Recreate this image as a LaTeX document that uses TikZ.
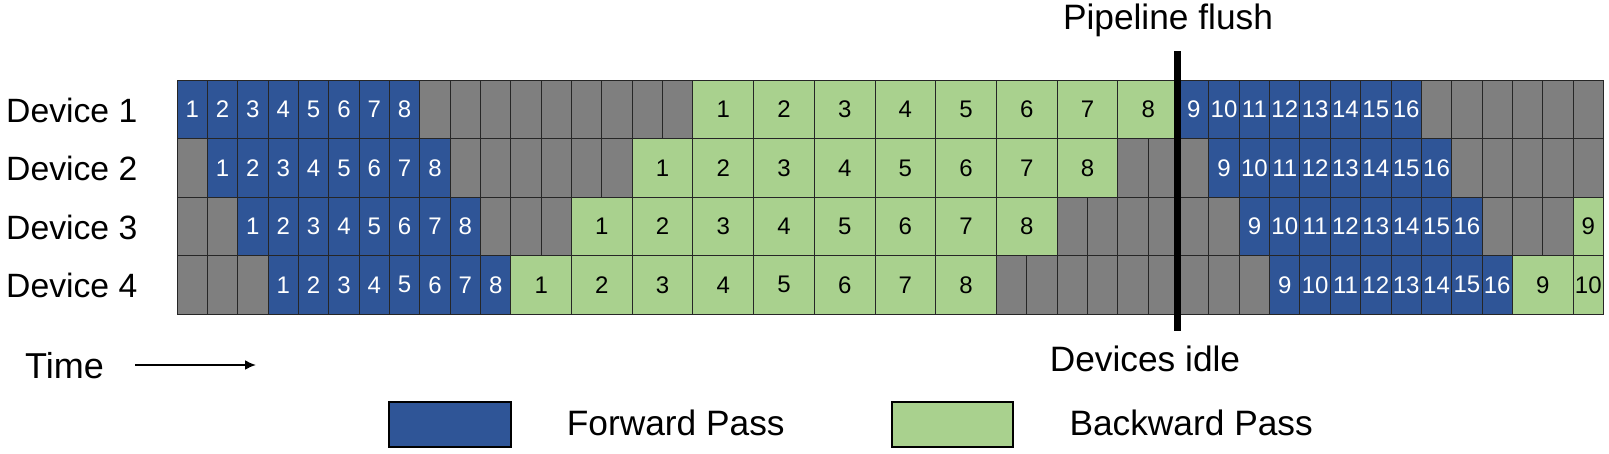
\documentclass[tikz,border=0pt]{standalone}
\usepackage{fontspec}
\setmainfont{Liberation Sans}
\usetikzlibrary{arrows.meta}
\definecolor{fwdblue}{HTML}{2F5597}
\definecolor{bwdgreen}{HTML}{A9D18E}
\definecolor{idlegray}{HTML}{7F7F7F}
\begin{document}
\begin{tikzpicture}[x=1pt,y=-1pt,
  cellbox/.style={draw=black!85, line width=1pt, inner sep=0pt, outer sep=0pt,
    minimum height=58.43pt, anchor=north west, font=\fontsize{24}{28}\selectfont},
  fwdcell/.style={cellbox, fill=fwdblue, text=white, minimum width=30.35pt},
  bwdcell/.style={cellbox, fill=bwdgreen, text=black, minimum width=60.7pt},
  bwdhalf/.style={cellbox, fill=bwdgreen, text=black, minimum width=30.35pt},
  idlecell/.style={cellbox, fill=idlegray, minimum width=30.35pt},
  devlbl/.style={inner sep=0pt, anchor=base west, font=\fontsize{33.7}{40}\selectfont},
  biglbl/.style={inner sep=0pt, anchor=base west, font=\fontsize{35.3}{42}\selectfont},
  legbox/.style={draw=black, line width=2pt, inner sep=0pt, outer sep=0pt,
    minimum width=121.7pt, minimum height=45.6pt, anchor=north west},
]
\useasboundingbox (0,0) rectangle (1609,453);

% idle background cells
\foreach \r in {1,...,4} {
  \foreach \c in {0,...,46} {
    \node[idlecell] (i\r-\c) at ({177+\c*30.35},{80.3+(\r-1)*58.43}) {};
  }
}

% forward cells
\foreach \r/\s/\t in {1/0/33, 2/1/34, 3/2/35, 4/3/36} {
  \foreach \k in {1,...,8} {
    \pgfmathtruncatemacro{\ka}{\s+\k-1}
    \pgfmathtruncatemacro{\kb}{\t+\k-1}
    \pgfmathtruncatemacro{\kk}{\k+8}
    \node[fwdcell] (f\r-\k) at ({177+\ka*30.35},{80.3+(\r-1)*58.43}) {\k};
    \node[fwdcell] (f\r-\kk) at ({177+\kb*30.35},{80.3+(\r-1)*58.43}) {\kk};
  }
}

% backward cells
\foreach \r/\s in {1/17, 2/15, 3/13, 4/11} {
  \foreach \k in {1,...,8} {
    \pgfmathtruncatemacro{\ka}{\s+2*(\k-1)}
    \node[bwdcell] (b\r-\k) at ({177+\ka*30.35},{80.3+(\r-1)*58.43}) {\k};
  }
}
\node[bwdhalf] (b3-9) at ({177+46*30.35},{80.3+2*58.43}) {9};
\node[bwdcell] (b4-9) at ({177+44*30.35},{80.3+3*58.43}) {9};
\node[bwdhalf] (b4-10) at ({177+46*30.35},{80.3+3*58.43}) {10};

% device labels
\node[devlbl] (d1) at (6,122.3) {Device 1};
\node[devlbl] (d2) at (6,180.7) {Device 2};
\node[devlbl] (d3) at (6,239.1) {Device 3};
\node[devlbl] (d4) at (6,297.6) {Device 4};

% pipeline flush
\node[biglbl, anchor=base] (flush) at (1168,29.3) {Pipeline flush};
\node[biglbl, anchor=base] (idle) at (1145,371.7) {Devices idle};
\coordinate (ftop) at (1177,51);
\coordinate (fbot) at (1177,331);
\draw[line width=7pt] (ftop) -- (fbot);

% time arrow
\node[biglbl, font=\fontsize{36}{42}\selectfont] (time) at (25,378.3) {Time};
\coordinate (ta) at (135,365);
\coordinate (tb) at (256,365);
\draw[line width=2pt, -{Latex[length=11pt,width=10pt]}] (ta) -- (tb);

% legend
\node[legbox, fill=fwdblue] (lf) at (389.3,401.7) {};
\node[biglbl] (lft) at (566.7,435) {Forward Pass};
\node[legbox, fill=bwdgreen] (lb) at (891.7,401.7) {};
\node[biglbl] (lbt) at (1069.3,435) {Backward Pass};
\end{tikzpicture}
\end{document}
